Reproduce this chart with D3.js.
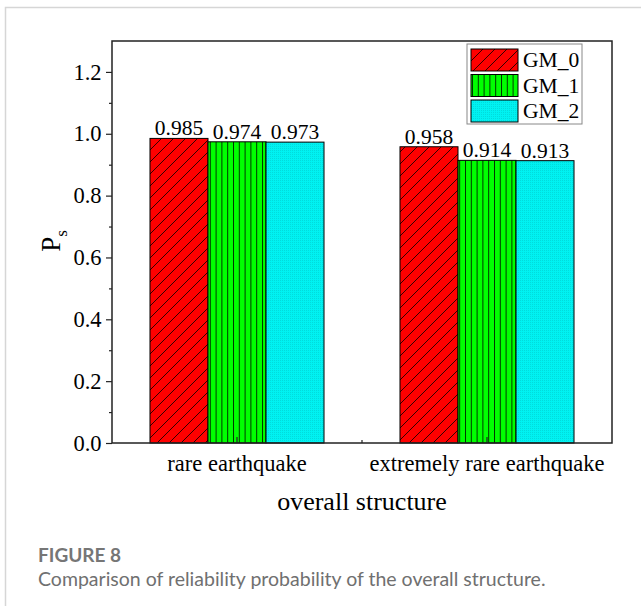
<!DOCTYPE html>
<html><head><meta charset="utf-8">
<script src="https://cdn.jsdelivr.net/npm/d3@7"></script>
<style>body{margin:0;background:#fff} svg{display:block}</style>
</head><body><svg id="chart" width="641" height="606"></svg>
<script>
// Reliability probability P_s of the overall structure
const categories = ["rare earthquake", "extremely rare earthquake"];
const seriesNames = ["GM_0", "GM_1", "GM_2"];
const gm0 = [0.985, 0.958];
const gm1 = [0.974, 0.914];
const gm2 = [0.973, 0.913];
const yTickValues = [0, 0.2, 0.4, 0.6, 0.8, 1.0, 1.2];
const yMinorTickValues = [0.1, 0.3, 0.5, 0.7, 0.9, 1.1];
const xLabel = "overall structure";
const figureTitle = "FIGURE 8";
const figureCaption = "Comparison of reliability probability of the overall structure.";

const series = [
  { name: seriesNames[0], values: gm0, fill: "url(#hatchRed)" },
  { name: seriesNames[1], values: gm1, fill: "url(#hatchGreen)" },
  { name: seriesNames[2], values: gm2, fill: "url(#dotCyan)" }
];

const svg = d3.select("#chart");
const serif = "'Liberation Serif','Times New Roman',serif";

// card outline
svg.append("path").attr("d", "M641,7.5 H5.5 V606").attr("fill", "none")
  .attr("stroke", "#d6d6d6").attr("stroke-width", 1.5);

// fill patterns
const defs = svg.append("defs");
const hs = 12;
const pr = defs.append("pattern").attr("id", "hatchRed").attr("patternUnits", "userSpaceOnUse")
  .attr("width", hs).attr("height", hs);
pr.append("rect").attr("width", hs).attr("height", hs).attr("fill", "#ff0000");
pr.append("path").attr("d", `M0,${hs} L${hs},0 M-2,2 L2,-2 M${hs - 2},${hs + 2} L${hs + 2},${hs - 2}`)
  .attr("stroke", "#000").attr("stroke-width", 0.8);

const pg = defs.append("pattern").attr("id", "hatchGreen").attr("patternUnits", "userSpaceOnUse")
  .attr("width", 5.8).attr("height", 10).attr("x", 1);
pg.append("rect").attr("width", 5.8).attr("height", 10).attr("fill", "#00ff00");
pg.append("line").attr("x1", 0.5).attr("x2", 0.5).attr("y1", 0).attr("y2", 10)
  .attr("stroke", "#000").attr("stroke-width", 0.8);

const pc = defs.append("pattern").attr("id", "dotCyan").attr("patternUnits", "userSpaceOnUse")
  .attr("width", 2).attr("height", 2);
pc.append("rect").attr("width", 2).attr("height", 2).attr("fill", "#00f2f2");
pc.append("rect").attr("width", 1).attr("height", 1).attr("fill", "#00dcdc");

// scales
const plot = { left: 112, right: 612, top: 41, bottom: 443 };
const x = d3.scaleBand().domain(categories).range([plot.left, plot.right]);
const xs = d3.scaleBand().domain(seriesNames).range([0, x.bandwidth()])
  .paddingInner(0).paddingOuter(0.655);
const y = d3.scaleLinear().domain([0, 1.3]).range([plot.bottom, plot.top]);

// bars
series.forEach(s => {
  const g = svg.append("g");
  g.selectAll("rect").data(categories).join("rect")
    .attr("x", c => x(c) + xs(s.name))
    .attr("y", (c, i) => y(s.values[i]))
    .attr("width", xs.bandwidth())
    .attr("height", (c, i) => y(0) - y(s.values[i]))
    .attr("fill", s.fill)
    .attr("stroke", "#000").attr("stroke-width", 1);
  g.selectAll("text").data(categories).join("text")
    .attr("x", c => x(c) + xs(s.name) + xs.bandwidth() / 2)
    .attr("y", (c, i) => y(s.values[i]) - 3)
    .attr("text-anchor", "middle")
    .attr("font-family", serif).attr("font-size", 21.5).attr("fill", "#000")
    .text((c, i) => s.values[i].toFixed(3));
});

// frame
svg.append("rect").attr("x", plot.left).attr("y", plot.top)
  .attr("width", plot.right - plot.left).attr("height", plot.bottom - plot.top)
  .attr("fill", "none").attr("stroke", "#222").attr("stroke-width", 1.5);

// y axis
const yAxis = svg.append("g").attr("transform", `translate(${plot.left},0)`)
  .call(d3.axisLeft(y).tickValues(yTickValues).tickSize(6).tickPadding(4.5)
    .tickFormat(d3.format(".1f")));
yAxis.select(".domain").remove();
yAxis.selectAll("line").attr("stroke", "#222").attr("stroke-width", 1.2);
yAxis.selectAll("text").attr("font-family", serif).attr("font-size", 22.5).attr("fill", "#000");
const yMinor = svg.append("g").attr("transform", `translate(${plot.left},0)`)
  .call(d3.axisLeft(y).tickValues(yMinorTickValues).tickSize(3).tickFormat(""));
yMinor.select(".domain").remove();
yMinor.selectAll("line").attr("stroke", "#222").attr("stroke-width", 1.2);

// x axis: inward ticks at categories, minor tick between
const xAxis = svg.append("g").attr("transform", `translate(0,${plot.bottom})`)
  .call(d3.axisTop(x).tickSize(6).tickFormat(""));
xAxis.select(".domain").remove();
xAxis.selectAll("line").attr("stroke", "#222").attr("stroke-width", 1.2);
svg.append("line")
  .attr("x1", x(categories[1])).attr("x2", x(categories[1]))
  .attr("y1", plot.bottom).attr("y2", plot.bottom - 3)
  .attr("stroke", "#222").attr("stroke-width", 1.2);
svg.append("g").selectAll("text").data(categories).join("text")
  .attr("x", c => x(c) + x.bandwidth() / 2).attr("y", plot.bottom + 28)
  .attr("text-anchor", "middle").attr("font-family", serif).attr("font-size", 22.5)
  .attr("fill", "#000").text(c => c);

// axis titles
svg.append("text").attr("x", (plot.left + plot.right) / 2).attr("y", 510)
  .attr("text-anchor", "middle").attr("font-family", serif).attr("font-size", 26)
  .attr("fill", "#000").text(xLabel);
const yt = svg.append("text").attr("transform", "translate(60,241) rotate(-90)")
  .attr("text-anchor", "middle").attr("font-family", serif).attr("font-size", 27).attr("fill", "#000");
yt.append("tspan").text("P");
yt.append("tspan").attr("font-size", 17).attr("dy", 7).text("s");

// legend
const lg = svg.append("g").attr("transform", "translate(467,44)");
lg.append("rect").attr("width", 115).attr("height", 80).attr("fill", "#fff")
  .attr("stroke", "#888").attr("stroke-width", 1);
series.forEach((s, i) => {
  const row = lg.append("g").attr("transform", `translate(4,${5 + i * 25.5})`);
  row.append("rect").attr("width", 47).attr("height", 22).attr("fill", s.fill)
    .attr("stroke", "#000").attr("stroke-width", 1);
  row.append("text").attr("x", 52).attr("y", 18).attr("font-family", serif)
    .attr("font-size", 21.5).attr("fill", "#000").text(s.name);
});

// caption
svg.append("text").attr("x", 38).attr("y", 562).attr("font-family", "Lato,'Open Sans',sans-serif")
  .attr("font-size", 19).attr("font-weight", 700).attr("fill", "#767676").text(figureTitle);
svg.append("text").attr("x", 38).attr("y", 586).attr("font-family", "Lato,'Open Sans',sans-serif")
  .attr("font-size", 19.5).attr("fill", "#707070").text(figureCaption);
</script></body></html>
